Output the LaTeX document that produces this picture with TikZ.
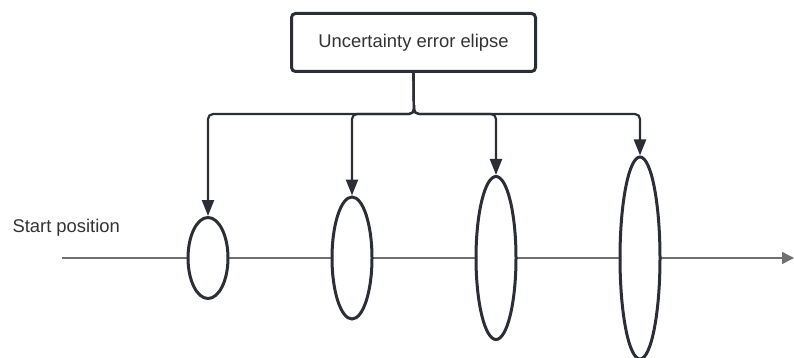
\documentclass[tikz,border=0pt]{standalone}
\usepackage{fontspec}
\setmainfont{Liberation Sans}
\usetikzlibrary{shapes.geometric,arrows.meta}
\definecolor{ink}{HTML}{2B2F35}
\definecolor{axisgray}{HTML}{707070}
\definecolor{txt}{HTML}{333333}
\begin{document}
\begin{tikzpicture}[x=1pt,y=-1pt,
  lbl/.style={font=\fontsize{18.4}{22}\selectfont, text=txt},
  titlebox/.style={draw=ink, line width=3pt, rounded corners=4pt, fill=white,
    minimum width=244pt, minimum height=58pt, inner sep=0pt, lbl},
  errell/.style={ellipse, draw=ink, line width=3pt, fill=white, inner sep=0pt,
    minimum width=40pt},
  conn/.style={draw=ink, line width=2.2pt, rounded corners=5pt,
    -{Triangle[length=16pt,width=12pt]}},
  axis/.style={draw=axisgray, line width=1.5pt,
    -{Triangle[length=12pt,width=12pt]}}
]
\useasboundingbox (0,0) rectangle (794,358);

% trajectory line
\coordinate (start) at (62,258);
\coordinate (finish) at (794,258);
\draw[axis] (start) -- (finish);

% growing uncertainty ellipses along the path
\node[errell, minimum height=81pt]  (e1) at (208,258) {};
\node[errell, minimum height=122pt] (e2) at (352,258) {};
\node[errell, minimum height=163pt] (e3) at (496,258) {};
\node[errell, minimum height=202pt] (e4) at (640,258) {};

% title box and distribution bus
\node[titlebox] (title) at (413.5,42.5) {Uncertainty error elipse};
\coordinate (bus) at (414,114);
\foreach \e in {e1,e2,e3,e4}
  \draw[conn] (title.south) -- (bus) -| (\e.north);

\node[lbl, anchor=base west] (startlbl) at (9,232) {Start position};
\end{tikzpicture}
\end{document}
